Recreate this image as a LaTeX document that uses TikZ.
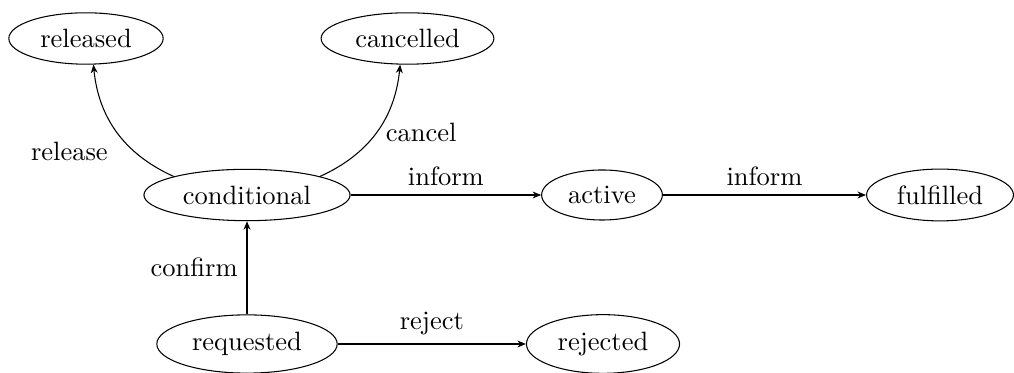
\documentclass[tikz,border=0pt]{standalone}
\usetikzlibrary{shapes.geometric,arrows.meta}
\begin{document}
\begin{tikzpicture}[x=0.3774pt,y=0.3774pt,
  state/.style={ellipse,draw,line width=0.4pt},
  conn/.style={->,line width=0.4pt},
  >={Stealth[length=3.2pt,width=2.6pt,inset=1pt]}]
\useasboundingbox (0,0) rectangle (1014,373);
\node[state] (released)    at (86,334.5)  {released};
\node[state] (cancelled)   at (407.5,334.5) {cancelled};
\node[state] (conditional) at (247,178)   {conditional};
\node[state] (active)      at (602,178)   {active};
\node[state] (fulfilled)   at (940,178)   {fulfilled};
\node[state] (requested)   at (247,29)    {requested};
\node[state] (rejected)    at (603,29)    {rejected};
\draw[conn] (conditional) to[bend left] node[anchor=north east] {release} (released);
\draw[conn] (conditional) to[bend right] node[anchor=west] {cancel} (cancelled);
\draw[conn] (conditional) -- node[above] {inform} (active);
\draw[conn] (active) -- node[above] {inform} (fulfilled);
\draw[conn] (requested) -- node[left] {confirm} (conditional);
\draw[conn] (requested) -- node[above] {reject} (rejected);
\end{tikzpicture}
\end{document}
